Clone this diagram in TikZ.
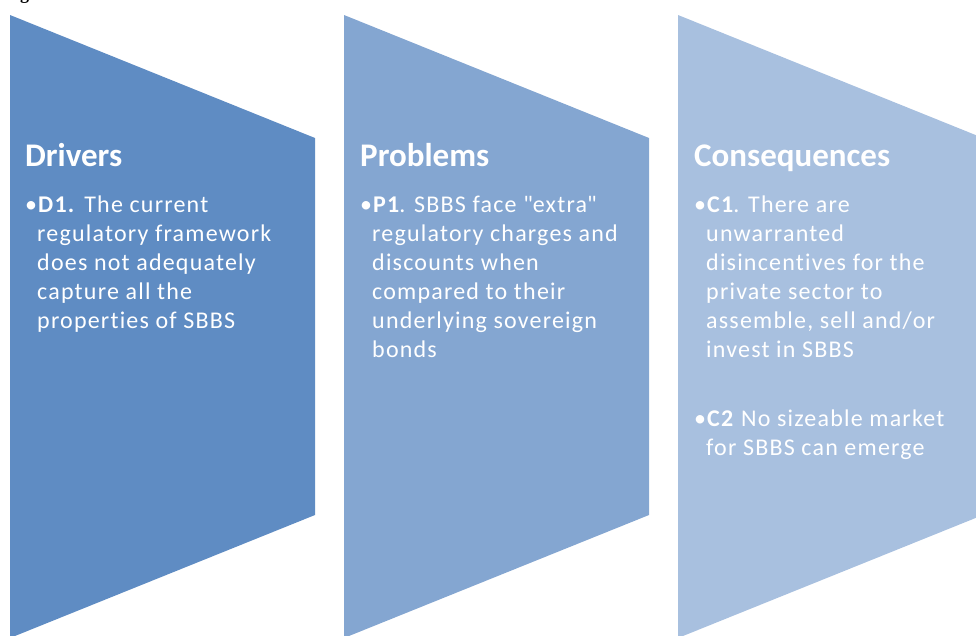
\documentclass[tikz,border=0pt]{standalone}
\usepackage{fontspec}
\setmainfont{Carlito}
\newfontfamily\bodyfont{Carlito}[LetterSpace=5, Ligatures=NoCommon]
\newfontfamily\capfont{Liberation Serif}
\definecolor{cA}{HTML}{5F8CC3}
\definecolor{cB}{HTML}{84A6D1}
\definecolor{cC}{HTML}{A8C0DF}
\tikzset{
  head/.style={anchor=base west, text=white, inner sep=0pt, font=\fontsize{33}{40}\selectfont\bfseries},
  body/.style={anchor=base west, text=white, inner sep=0pt, font=\bodyfont\fontsize{24}{29}\selectfont},
}
\newcommand{\bul}[2]{\hangindent=12pt\hangafter=1\noindent\makebox[13pt][l]{\textbullet}\textbf{#1}#2\par}
\begin{document}
\begin{tikzpicture}[x=1pt,y=-1pt]
\useasboundingbox (0,0) rectangle (976,635);
\node[anchor=base west, inner sep=0pt, font=\capfont\bfseries\fontsize{18}{20}\selectfont] (fig) at (4,-1) {Figure};
\fill[cA] (10,15) -- (315,138) -- (315,515) -- (10,638) -- cycle;
\fill[cB] (344,15) -- (649,138) -- (649,515) -- (344,638) -- cycle;
\fill[cC] (678,15) -- (983,138) -- (983,515) -- (678,638) -- cycle;
\node[head] (h1) at (25,166) {Drivers};
\node[head] (h2) at (360,166) {Problems};
\node[head] (h3) at (694,166) {Consequences};
\node[body] (b1) at (25,212) {\parbox[t]{280pt}{\bul{D1.}{ The current\\regulatory framework\\does not adequately\\capture all the\\properties of SBBS}}};
\node[body] (b2) at (360,212) {\parbox[t]{280pt}{\bul{P1}{. SBBS face \textquotedbl extra\textquotedbl\\regulatory charges and\\discounts when\\compared to their\\underlying sovereign\\bonds}}};
\node[body] (b3) at (694,212) {\parbox[t]{280pt}{\bul{C1}{. There are\\unwarranted\\disincentives for the\\private sector to\\assemble, sell and/or\\invest in SBBS}\vspace{40pt}\bul{C2}{ No sizeable market\\for SBBS can emerge}}};
\end{tikzpicture}
\end{document}
